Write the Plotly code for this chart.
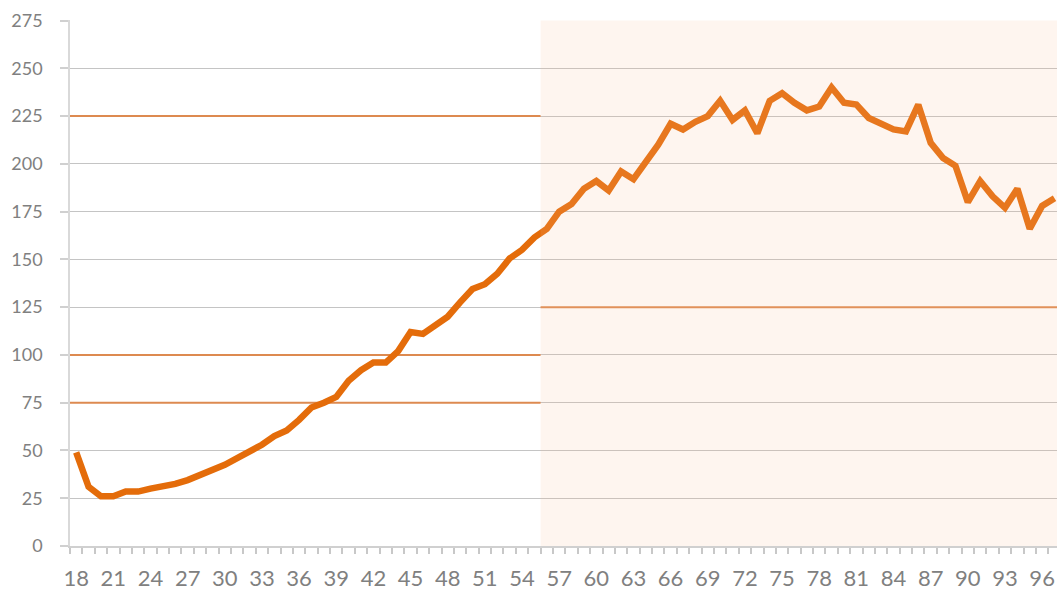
import plotly.graph_objects as go

ages = list(range(18, 98))
values = [
    49, 31, 26, 26, 28.5, 28.5, 30, 31, 32.5, 34.5,      # 18-27
    37, 39.5, 42.5, 46, 49.5, 53, 57.5, 60.5, 66, 72.5,  # 28-37
    75, 78, 86.5, 92, 96, 96, 102, 112, 111, 115.5,      # 38-47
    120, 127.5, 134.5, 137, 142.5, 150.5, 155, 161.5,    # 48-55
    166, 175, 179, 187, 191, 186, 196, 192, 201, 210,    # 56-65
    221, 218, 222, 225, 233, 223, 228, 216, 233, 237,    # 66-75
    232, 228, 230, 240, 232, 231, 224, 221, 218, 217,    # 76-85
    231, 211, 203, 199, 180, 191, 183, 177, 187, 166,    # 86-95
    178, 182,                                            # 96-97
]

# reference levels: (value, x start, x end)
ref_levels = [225, 100, 75, 125]
ref_x0 = [17.5, 17.5, 17.5, 55.5]
ref_x1 = [55.5, 55.5, 55.5, 98]

shade_x0, shade_x1 = 55.5, 98
y_ticks = list(range(0, 276, 25))
x_label_ticks = list(range(18, 98, 3))

fig = go.Figure()
for v, a, b in zip(ref_levels, ref_x0, ref_x1):
    fig.add_trace(go.Scatter(
        x=[a, b], y=[v, v], mode="lines",
        line=dict(color="#DD8A50", width=2),
        hoverinfo="skip", showlegend=False,
    ))

fig.add_trace(go.Scatter(
    x=ages, y=values, mode="lines",
    line=dict(color="#E46C0A", width=6.5, shape="linear"),
    hoverinfo="skip", showlegend=False,
))

fig.add_shape(type="rect", xref="x", yref="y", x0=shade_x0, x1=shade_x1,
              y0=0, y1=275, line=dict(width=0),
              fillcolor="rgba(248,188,148,0.15)", layer="above")

fig.update_layout(
    width=1057, height=591,
    margin=dict(l=70, r=0, t=20, b=45),
    paper_bgcolor="white", plot_bgcolor="white",
    font=dict(family="Lato, Open Sans, sans-serif", color="#808080"),
    xaxis=dict(
        range=[17.5, 97.2], tickmode="array", tickvals=x_label_ticks,
        ticktext=[str(t) for t in x_label_ticks],
        ticks="", showgrid=False, zeroline=False, automargin=False,
        showline=True, linecolor="#D0D0D0", linewidth=1.5,
        tickfont=dict(size=22, color="#808080"),
        ticklabelstandoff=12,
        minor=dict(tickmode="linear", tick0=17.5, dtick=1, ticks="outside",
                   ticklen=6, tickcolor="#C8C8C8", tickwidth=1.5, showgrid=False),
    ),
    yaxis=dict(
        range=[0, 275.3], tickmode="array", tickvals=y_ticks,
        ticks="outside", ticklen=8, tickcolor="#D0D0D0", tickwidth=1.5,
        showgrid=True, gridcolor="#C4C4C4", gridwidth=1.3, automargin=False,
        zeroline=False, showline=True, linecolor="#D9D9D9", linewidth=1.5,
        tickfont=dict(size=18, color="#808080"), ticklabelstandoff=14,
    ),
)

fig.write_html(
    "out.html",
    config={"displayModeBar": False},
    post_script="document.body.style.margin='0';document.body.style.overflow='hidden';",
)
